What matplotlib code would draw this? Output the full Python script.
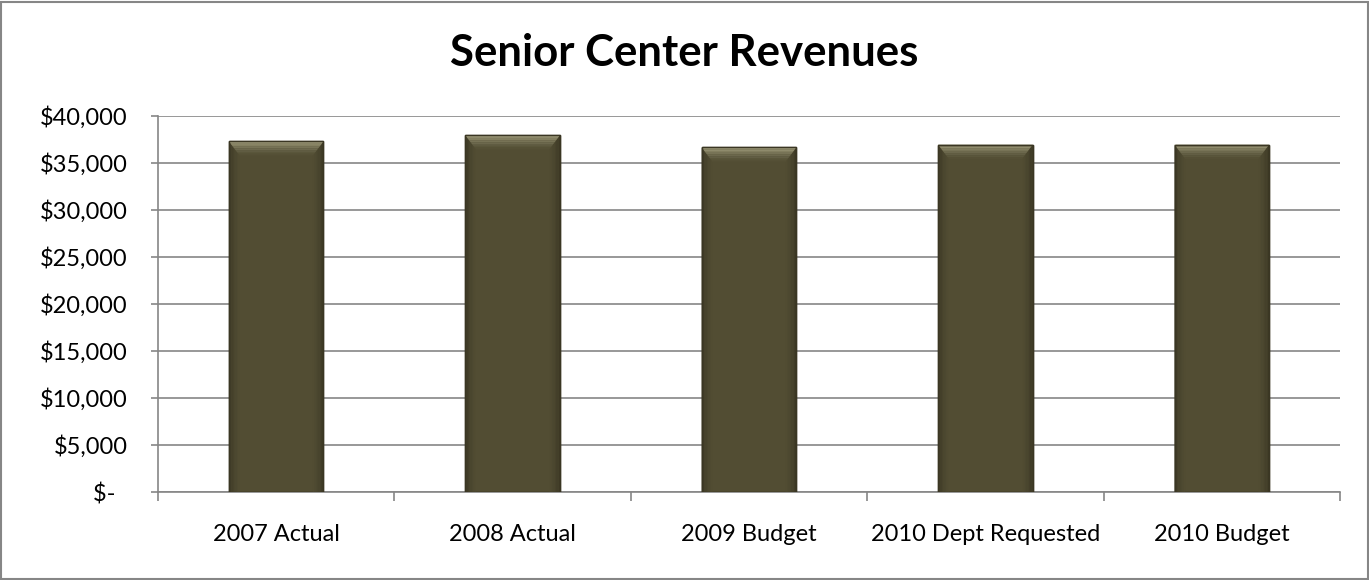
import matplotlib
matplotlib.use("Agg")
import matplotlib.pyplot as plt
from matplotlib.patches import Polygon, Rectangle
from matplotlib.ticker import FuncFormatter, MultipleLocator
import numpy as np

categories = ["2007 Actual", "2008 Actual", "2009 Budget", "2010 Dept Requested", "2010 Budget"]
revenues = [37300, 37950, 36650, 36950, 36950]
title = "Senior Center Revenues"

plt.rcParams['font.family'] = ['Lato', 'DejaVu Sans']

W, H = 1369, 580
fig = plt.figure(figsize=(W / 100, H / 100), dpi=100)
fig.patch.set_facecolor('white')
# outer border
fig.patches.append(Rectangle((0.001, 0.002), 0.998, 0.995, transform=fig.transFigure,
                             fill=False, edgecolor='#868686', linewidth=1.5))

ax = fig.add_axes([158 / W, (H - 492) / H, (1340 - 158) / W, (492 - 116) / H])
x = np.arange(len(categories))
bw = 0.4
bars = ax.bar(x, revenues, width=bw, color='#524D33', edgecolor='#3A3623',
              linewidth=1.0, zorder=3)

# bevel shading (gradient built from layered strips)
bev_h = 1500
bev_w = 0.045
steps = 8
top_cols = ['#9C9878', '#8F8B6C', '#837F60', '#777356', '#6C684D', '#625E44', '#5A563B', '#555036']
side_cols = ['#3C3824', '#403C27', '#443F2A', '#47432C', '#4A462E', '#4C4830', '#4F4A31', '#514C32']
for xi, v in zip(x, revenues):
    l, r = xi - bw / 2, xi + bw / 2
    for k in range(steps):
        f0 = k / steps
        f1 = (k + 1) / steps
        # sides
        ax.add_patch(Polygon([[l + bev_w * f0, v - bev_h * f0], [l + bev_w * f1, v - bev_h * f1],
                              [l + bev_w * f1, 0], [l + bev_w * f0, 0]],
                             closed=True, facecolor=side_cols[k], edgecolor='none', zorder=4))
        ax.add_patch(Polygon([[r - bev_w * f0, v - bev_h * f0], [r - bev_w * f1, v - bev_h * f1],
                              [r - bev_w * f1, 0], [r - bev_w * f0, 0]],
                             closed=True, facecolor=side_cols[k], edgecolor='none', zorder=4))
        # top
        ax.add_patch(Polygon([[l + bev_w * f0, v - bev_h * f0], [r - bev_w * f0, v - bev_h * f0],
                              [r - bev_w * f1, v - bev_h * f1], [l + bev_w * f1, v - bev_h * f1]],
                             closed=True, facecolor=top_cols[k], edgecolor='none', zorder=4))
    ax.add_patch(Rectangle((l, 0), bw, v, fill=False, edgecolor='#3A3623', linewidth=1.0, zorder=5))

ax.set_xlim(-0.5, len(categories) - 0.5)
ax.set_ylim(0, 40000)
ax.yaxis.set_major_locator(MultipleLocator(5000))
ax.yaxis.set_major_formatter(FuncFormatter(lambda v, p: "$-  " if v == 0 else f"${v:,.0f}"))
ax.grid(axis='y', color='#868686', linewidth=1.2, zorder=0)
ax.set_axisbelow(True)

ax.set_xticks(x)
ax.set_xticklabels(categories)
ax.set_xticks(np.arange(len(categories) + 1) - 0.5, minor=True)
ax.tick_params(axis='x', which='major', length=0, pad=23, labelsize=17)
ax.tick_params(axis='x', which='minor', length=6.5, width=1.2, color='#868686', direction='out')
ax.tick_params(axis='y', length=5, width=1.2, color='#868686', direction='out', pad=17, labelsize=17)
for lab in ax.get_yticklabels():
    lab.set_horizontalalignment('right')

for s in ['top', 'right']:
    ax.spines[s].set_visible(False)
for s in ['left', 'bottom']:
    ax.spines[s].set_color('#868686')
    ax.spines[s].set_linewidth(1.2)

fig.text(0.5, (H - 53) / H, title, ha='center', va='center', fontsize=31.5, fontweight='bold')

fig.savefig("out.png", dpi=100)
